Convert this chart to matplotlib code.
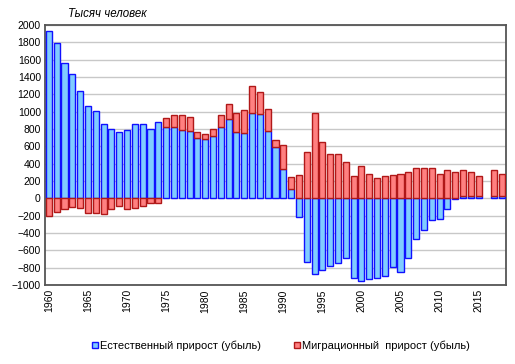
import numpy as np
import matplotlib
matplotlib.use("Agg")
import matplotlib.pyplot as plt
from matplotlib.lines import Line2D

plt.rcParams['font.family'] = ['Liberation Sans', 'DejaVu Sans']

# Data (thousand people), 2016 missing
years = list(range(1960, 2019))
natural = [1931, 1795, 1565, 1433, 1245, 1062, 1008, 858, 805, 762,
           789, 859, 859, 805, 879, 820, 820, 785, 774, 693,
           682, 716, 820, 912, 762, 751, 988, 969, 778, 590,
           343, 103, -218, -738, -869, -828, -782, -751, -690, -920,
           -951, -928, -920, -901, -793, -847, -690, -472, -364, -249,
           -241, -126, -8, 24, 30, 32, np.nan, 30, 30]
migration = [-205, -152, -120, -95, -110, -172, -165, -186, -118, -85,
             -122, -115, -85, -57, -52, 108, 142, 177, 161, 73,
             61, 85, 142, 177, 223, 264, 307, 264, 258, 86,
             275, 146, 272, 537, 985, 655, 517, 517, 425, 264,
             375, 283, 237, 256, 268, 287, 310, 356, 356, 345,
             276, 322, 299, 298, 280, 221, np.nan, 303, 246]

x = np.array(years, dtype=float)
nat = np.array(natural, dtype=float)
mig = np.array(migration, dtype=float)
ok = ~np.isnan(nat)

# Excel-style stacking: positives stack up, negatives stack down
nat_bottom = np.zeros_like(nat)
mig_bottom = np.where((mig >= 0) & (nat > 0), nat, 0.0)
mig_bottom = np.where((mig < 0) & (nat < 0), nat, mig_bottom)

fig = plt.figure(figsize=(5.15, 3.64), dpi=100)
ax = fig.add_axes([0.0874, 0.217, 0.8951, 0.714])

ax.bar(x[ok], nat[ok], bottom=nat_bottom[ok], width=0.78,
       color='#80CCFF', edgecolor='#1010FF', linewidth=1.0, zorder=3)
ax.bar(x[ok], mig[ok], bottom=mig_bottom[ok], width=0.78,
       color='#FF8080', edgecolor='#B01818', linewidth=1.0, zorder=3)

ax.set_xlim(1959.5, 2018.5)
ax.set_ylim(-1000, 2000)
ax.set_yticks(range(-1000, 2001, 200))
ax.set_xticks(range(1960, 2016, 5))
ax.set_xticklabels([str(y) for y in range(1960, 2016, 5)], rotation=90)
ax.tick_params(axis='both', labelsize=7.5, length=0, pad=3, colors='#000000')
ax.yaxis.grid(True, color='#C8C8C8', linewidth=1.0, zorder=0)
ax.set_axisbelow(True)
for s in ax.spines.values():
    s.set_color('#555555')
    s.set_linewidth(1.3)

fig.text(0.132, 0.962, 'Тысяч человек', fontsize=8.3, style='italic',
         color='#000000', va='center')

handles = [
    Line2D([], [], marker='s', linestyle='none', markersize=5,
           markerfacecolor='#80CCFF', markeredgecolor='#1010FF'),
    Line2D([], [], marker='s', linestyle='none', markersize=5,
           markerfacecolor='#FF8080', markeredgecolor='#B01818'),
]
fig.legend(handles, ['Естественный прирост (убыль)', 'Миграционный  прирост (убыль)'],
           loc='center', bbox_to_anchor=(0.544, 0.05), ncol=2, frameon=False,
           fontsize=8.0, handletextpad=0.1, columnspacing=2.8, handlelength=0.8)

fig.savefig('out.png', dpi=100)
